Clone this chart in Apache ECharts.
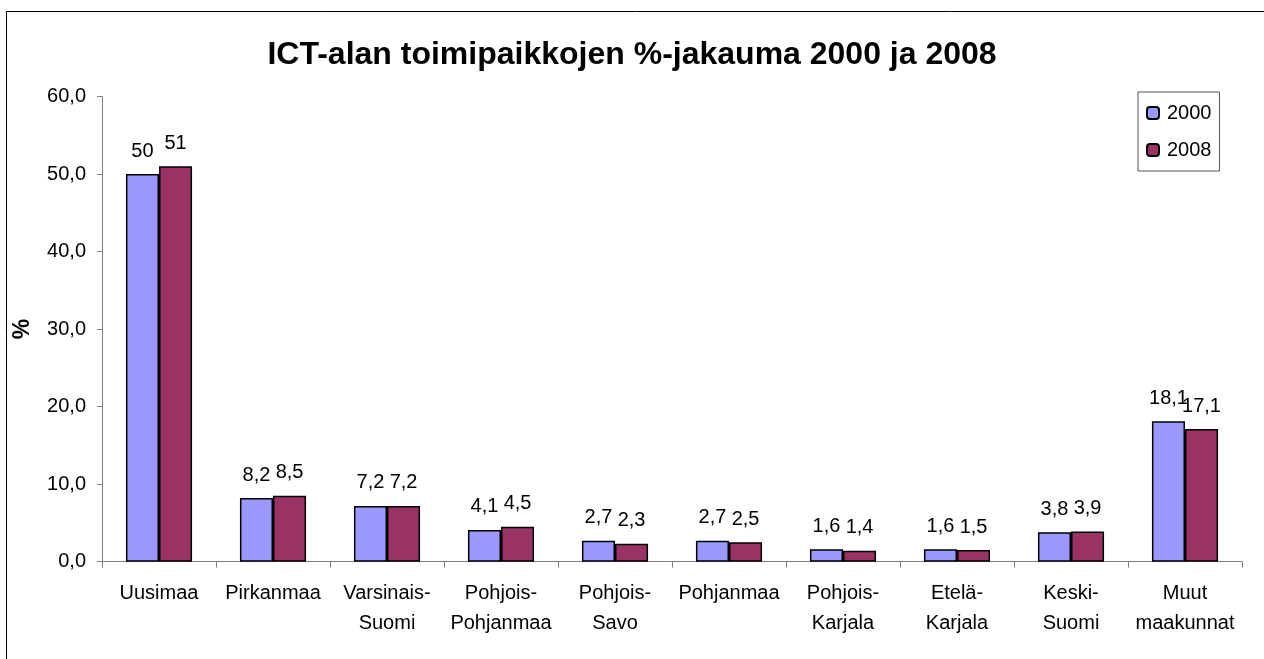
<!DOCTYPE html>
<html>
<head>
<meta charset="utf-8">
<script src="https://cdn.jsdelivr.net/npm/echarts@6/dist/echarts.min.js"></script>
<style>
  html, body { margin: 0; padding: 0; background: #fff; }
  #chart { width: 1264px; height: 659px; }
</style>
</head>
<body>
<div id="chart"></div>
<script>
const categories = ['Uusimaa', 'Pirkanmaa', 'Varsinais-\nSuomi', 'Pohjois-\nPohjanmaa', 'Pohjois-\nSavo',
  'Pohjanmaa', 'Pohjois-\nKarjala', 'Etelä-\nKarjala', 'Keski-\nSuomi', 'Muut\nmaakunnat']
const values2000 = [50, 8.2, 7.2, 4.1, 2.7, 2.7, 1.6, 1.6, 3.8, 18.1]
const values2008 = [51, 8.5, 7.2, 4.5, 2.3, 2.5, 1.4, 1.5, 3.9, 17.1]
const yTicks = [0, 10, 20, 30, 40, 50, 60]

const font = '"Liberation Sans", Arial, sans-serif'
const comma = v => String(v).replace('.', ',')

function barSeries(name, data, color) {
  return {
    name: name,
    type: 'bar',
    data: data,
    barGap: '0%',
    barCategoryGap: '42%',
    itemStyle: { color: color, borderColor: '#000', borderWidth: 1.5 },
    label: {
      show: true,
      position: 'top',
      distance: 13,
      color: '#000',
      fontFamily: font,
      fontSize: 20,
      formatter: p => comma(p.value)
    }
  }
}

const chart = echarts.init(document.getElementById('chart'))
chart.setOption({
  animation: false,
  backgroundColor: '#fff',
  graphic: [{
    type: 'rect',
    shape: { x: 6.5, y: 11.5, width: 1300, height: 700 },
    style: { fill: 'none', stroke: '#000', lineWidth: 1 }
  }],
  title: {
    text: 'ICT-alan toimipaikkojen %-jakauma 2000 ja 2008',
    left: 'center',
    top: 39,
    padding: 0,
    textStyle: { fontFamily: font, fontSize: 32, fontWeight: 'bold', color: '#000' }
  },
  legend: {
    orient: 'vertical',
    left: 1138,
    top: 92,
    padding: [11, 8, 11, 8],
    itemGap: 17,
    itemWidth: 12,
    itemHeight: 12,
    borderColor: '#555',
    borderWidth: 1,
    textStyle: { fontFamily: font, fontSize: 20, color: '#000', padding: [0, 0, 0, 3] },
    data: ['2000', '2008']
  },
  grid: { left: 102, right: 22, top: 96.5, bottom: 97.3 },
  xAxis: {
    type: 'category',
    data: categories,
    axisLine: { lineStyle: { color: '#808080', width: 1 } },
    axisTick: { show: true, length: 6, lineStyle: { color: '#808080' } },
    axisLabel: {
      interval: 0,
      margin: 17,
      color: '#000',
      fontFamily: font,
      fontSize: 20,
      lineHeight: 30
    }
  },
  yAxis: {
    type: 'value',
    min: yTicks[0],
    max: yTicks[yTicks.length - 1],
    interval: 10,
    name: '%',
    nameLocation: 'middle',
    nameGap: 68,
    nameRotate: 90,
    nameTextStyle: { fontFamily: font, fontSize: 23, fontWeight: 'bold', color: '#000' },
    splitLine: { show: false },
    axisLine: { show: true, lineStyle: { color: '#808080', width: 1 } },
    axisTick: { show: true, length: 5, lineStyle: { color: '#808080' } },
    axisLabel: {
      margin: 16,
      color: '#000',
      fontFamily: font,
      fontSize: 20,
      formatter: v => v.toFixed(1).replace('.', ',')
    }
  },
  series: [
    barSeries('2000', values2000, '#9999FF'),
    barSeries('2008', values2008, '#993366')
  ]
})
</script>
</body>
</html>
